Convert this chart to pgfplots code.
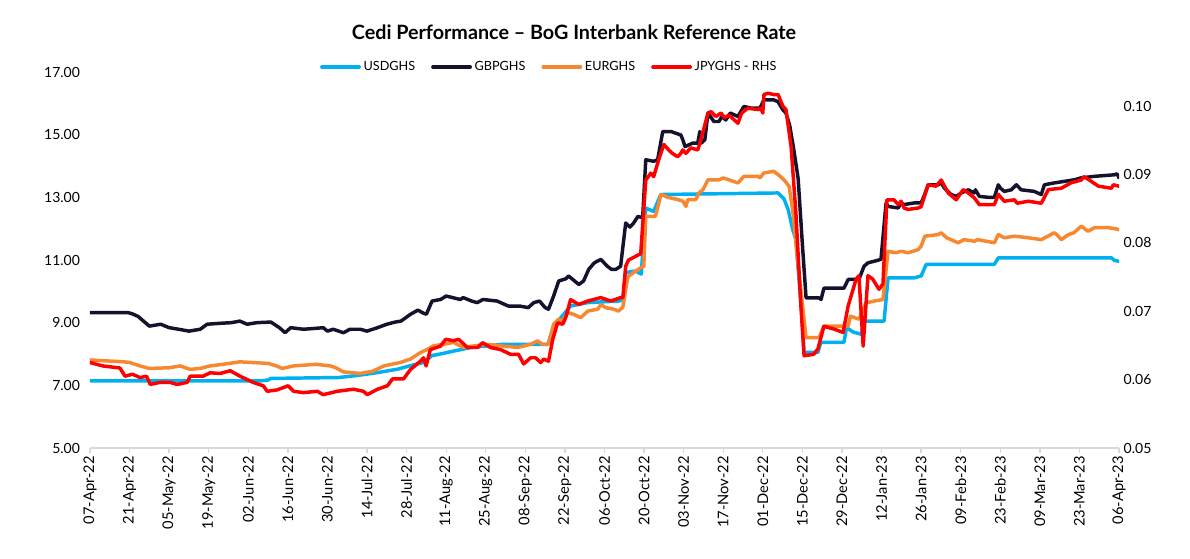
\documentclass[border=0pt]{standalone}
\usepackage{pgfplots}
\pgfplotsset{compat=1.18}
\usepackage{fontspec}
\setmainfont{Lato}
\definecolor{usd}{HTML}{00B0F0}
\definecolor{gbp}{HTML}{13132E}
\definecolor{eur}{HTML}{F7882F}
\definecolor{jpy}{HTML}{FF0000}
\definecolor{axgray}{HTML}{D9D9D9}
\pgfplotsset{
  serie/.style={no marks, line width=2.6pt, line join=round, line cap=round},
}
\begin{document}
\begin{tikzpicture}
\useasboundingbox (-67.5pt,-82.5pt) rectangle (825pt,336pt);
\begin{axis}[
  at={(0pt,0pt)}, anchor=south west,
  scale only axis, width=771.75pt, height=282pt,
  xmin=0, xmax=364, ymin=5, ymax=17,
  axis x line*=bottom, axis y line*=left,
  x axis line style={axgray, line width=1pt, -},
  y axis line style={draw=none},
  xtick={0,14,...,364},
  xticklabels={07-Apr-22,21-Apr-22,05-May-22,19-May-22,02-Jun-22,16-Jun-22,30-Jun-22,14-Jul-22,28-Jul-22,11-Aug-22,25-Aug-22,08-Sep-22,22-Sep-22,06-Oct-22,20-Oct-22,03-Nov-22,17-Nov-22,01-Dec-22,15-Dec-22,29-Dec-22,12-Jan-23,26-Jan-23,09-Feb-23,23-Feb-23,09-Mar-23,23-Mar-23,06-Apr-23},
  xtick style={axgray, line width=1pt},
  tick align=outside, major tick length=4pt,
  xtick pos=bottom,
  ytick={5,7,9,11,13,15,17},
  ytick style={draw=none},
  xticklabel style={rotate=90, anchor=east, font=\fontsize{11}{12}\selectfont, inner sep=2pt},
  yticklabel style={font=\fontsize{10.5}{12}\selectfont},
  /pgf/number format/.cd, fixed, fixed zerofill, precision=2, assume math mode=true,
  /pgfplots/.cd,
  legend columns=4,
  legend style={draw=none, fill=none, at={(0.4466,1.0133)}, anchor=center,
    font=\fontsize{9.5}{11}\selectfont,
    /tikz/every even column/.append style={column sep=10pt}},
  legend image code/.code={\draw[#1] (0pt,0pt) -- (28pt,0pt);},
]
\addplot[serie, usd] table {
0 7.14
60 7.14
63 7.17
64 7.22
88 7.25
95 7.32
102 7.41
109 7.52
113 7.62
118 7.73
121 7.95
125 8.02
129 8.10
135 8.21
146 8.31
162 8.31
164 8.90
166 9.10
170 9.53
176 9.64
187 9.69
188.5 9.72
189.5 10.60
193 10.65
195 10.55
196.6 12.66
199.4 12.55
201.9 13.09
243.4 13.14
244.4 13.05
245.5 12.95
247 12.60
248.5 12.00
249.7 11.65
250.8 10.38
252 9.00
252.6 8.05
257.5 8.05
258.5 8.37
266.7 8.37
267.6 8.84
270 8.70
272.8 8.63
274 9.05
280.9 9.05
282.3 10.43
291.5 10.43
294 10.49
295.8 10.86
319.9 10.86
321.3 11.07
361.3 11.07
362.5 10.98
364 10.96
};
\addlegendentry{USDGHS}
\addplot[serie, gbp] table {
0 9.32
13.5 9.32
15 9.28
17 9.20
21 8.89
25 8.95
28 8.84
32 8.78
35 8.73
39 8.79
41.4 8.95
46 8.98
50 9.00
53 9.05
55.6 8.95
59 9.00
64 9.02
67 8.84
69 8.68
71 8.84
75.5 8.79
80 8.82
82.5 8.84
84 8.73
86 8.79
89.6 8.68
92 8.79
95.6 8.79
98 8.73
101.7 8.84
105 8.95
108 9.02
110 9.05
113.4 9.27
116 9.40
118 9.30
119 9.27
121 9.69
124 9.74
126 9.85
131 9.74
132 9.80
135 9.69
137 9.64
139 9.74
144 9.69
148 9.53
152 9.53
155 9.48
157 9.64
159 9.69
161 9.48
162.2 9.43
164 9.85
165.8 10.33
168.3 10.40
169.3 10.49
172.9 10.22
174.6 10.33
176.4 10.70
178.4 10.91
180.7 11.02
183 10.80
184.5 10.70
186 10.70
187.7 10.80
189.5 12.18
191 12.05
192.3 12.18
193.8 12.39
195.5 12.35
196.6 14.20
199.4 14.15
200.8 14.20
202.6 15.10
205.5 15.10
209 14.99
209.7 14.84
210.5 14.62
213.2 14.73
215 14.73
215.7 15.10
216.2 14.73
217.5 14.84
218.6 15.69
220.7 15.42
222.5 15.42
223.5 15.58
224.9 15.47
226.5 15.69
229.2 15.58
231.3 15.90
233.8 15.85
237 15.85
238.4 16.11
241.9 16.11
243.4 16.05
245.1 15.79
246.2 15.69
247.5 15.30
249 14.50
250.5 13.60
252 11.50
253.3 9.79
257.9 9.79
258.6 9.74
259.6 10.10
266.7 10.10
268.2 10.38
272 10.38
273.8 10.80
275.2 10.91
277.4 10.96
279.8 11.02
281.6 12.82
282.3 12.71
285.9 12.66
286.9 12.82
288 12.77
291.5 12.82
294 12.82
295 13.03
296.5 13.40
300 13.40
301.1 13.46
302.2 13.30
304.6 13.09
306.4 13.03
308.2 13.14
310.7 13.24
312.8 13.14
313.2 13.24
314.6 13.03
317.8 13.00
319.9 13.00
321.3 13.40
322 13.30
323.4 13.19
325.9 13.24
327.7 13.40
329.4 13.24
334 13.19
336.5 13.09
337.6 13.40
341.1 13.46
344.7 13.51
348.2 13.56
350.5 13.62
355.3 13.67
362.4 13.72
363.3 13.75
364 13.62
};
\addlegendentry{GBPGHS}
\addplot[serie, eur] table {
0 7.81
12 7.75
14 7.73
17.7 7.62
21 7.54
28 7.56
31.9 7.62
35.4 7.51
39 7.54
42.5 7.62
47 7.67
53 7.75
63 7.70
66 7.62
68 7.54
72 7.62
80 7.67
85 7.62
87 7.56
89.6 7.43
95.6 7.38
100 7.45
104 7.62
109.8 7.73
113.4 7.84
117 8.05
119.4 8.15
121.5 8.26
125 8.31
128.6 8.37
132 8.21
136 8.26
140.6 8.31
145.2 8.26
151.3 8.21
155.9 8.31
158.3 8.42
160 8.31
162.2 8.31
164 8.95
165.8 9.11
167 9.05
169 9.32
171 9.27
173.6 9.16
176.1 9.37
179.6 9.43
180.7 9.58
182.4 9.48
185.3 9.43
187 9.37
188.5 9.50
190.2 10.43
190.6 10.49
193.1 10.65
194.8 10.75
195.9 10.80
196.6 12.39
200 12.39
202 13.09
204.4 13.00
207.9 12.93
209.7 12.88
210.8 12.71
211.5 12.93
214.3 12.93
215.4 13.14
216.8 13.24
218.6 13.56
222.5 13.56
224 13.62
226 13.56
229.2 13.46
231.3 13.67
236.3 13.67
237 13.62
238.4 13.78
241.9 13.83
243.5 13.72
245.5 13.56
247.3 13.35
248.7 12.50
250.4 10.91
252 9.60
253.3 8.52
257.9 8.52
259.6 8.89
268.2 8.89
269 9.21
272 9.11
274.5 9.63
277.4 9.69
280.5 9.74
282.3 11.28
285 11.23
286.9 11.28
289.4 11.23
292.9 11.33
294 11.44
295.3 11.76
300 11.81
301.1 11.87
303 11.71
307.1 11.55
309.2 11.65
312.8 11.60
314 11.65
319.9 11.55
321.3 11.81
323.4 11.71
327 11.76
331.9 11.71
336.5 11.65
341.1 11.87
342 11.81
343.6 11.65
346.1 11.81
348 11.87
350.7 12.08
353 11.92
355.3 12.03
360.3 12.03
362.5 12.00
364 11.97
};
\addlegendentry{EURGHS}
\addlegendimage{serie, jpy}
\addlegendentry{JPYGHS - RHS}
\end{axis}
\begin{axis}[
  at={(0pt,0pt)}, anchor=south west,
  scale only axis, width=771.75pt, height=282pt,
  xmin=0, xmax=364, ymin=0.05, ymax=0.105,
  axis y line*=right, axis x line=none,
  y axis line style={draw=none}, ytick style={draw=none},
  ytick={0.05,0.06,0.07,0.08,0.09,0.10},
  scaled y ticks=false,
  yticklabel style={font=\fontsize{10.5}{12}\selectfont},
  /pgf/number format/.cd, fixed, fixed zerofill, precision=2, assume math mode=true,
  /pgfplots/.cd,
]
\addplot[serie, jpy] table {
0 0.0625
4.6 0.0620
10.6 0.0617
12.4 0.0605
15 0.0608
17.7 0.0603
20 0.0605
21.3 0.0593
24.8 0.0596
28.3 0.0596
30.8 0.0593
34.4 0.0596
35.4 0.0605
40 0.0605
42.5 0.0610
46 0.0609
49.6 0.0613
53.1 0.0605
57.7 0.0596
61.3 0.0591
62.7 0.0583
66.2 0.0585
70.1 0.0591
72 0.0583
75.5 0.0581
80.4 0.0583
82.5 0.0578
87.5 0.0583
93.2 0.0586
96.7 0.0583
98.1 0.0578
101.7 0.0586
105.2 0.0591
107 0.0601
110.9 0.0601
113.4 0.0615
116.9 0.0627
118 0.0632
118.9 0.0620
120.4 0.0644
124 0.0649
125.8 0.0659
128.6 0.0657
130.4 0.0659
133.5 0.0647
137.1 0.0647
138.9 0.0654
141.7 0.0647
145.2 0.0644
148.8 0.0637
151.6 0.0637
153.4 0.0623
155.9 0.0632
157.6 0.0632
159.4 0.0625
160.5 0.0630
162.2 0.0627
163.7 0.0659
165.4 0.0683
167.2 0.0681
168.3 0.0691
170 0.0717
172.9 0.0710
176.1 0.0715
180.7 0.0720
184.2 0.0715
187.7 0.0720
188.5 0.0720
189.5 0.0766
190.5 0.0775
193.8 0.0782
194.8 0.0784
196.6 0.0892
198.4 0.0902
199.4 0.0897
201.2 0.0922
203 0.0944
204.7 0.0936
206 0.0931
207.9 0.0926
209 0.0931
209.7 0.0936
210.8 0.0931
212.5 0.0939
215 0.0936
216.1 0.0951
218.6 0.0990
219.7 0.0992
221.4 0.0985
223.2 0.0990
224.5 0.0983
226 0.0987
229.2 0.0975
230.5 0.0990
232.7 0.0997
236.3 0.0995
237.3 0.0997
238 0.0990
238.4 0.1017
239.8 0.1019
241.9 0.1017
243.4 0.1017
245.1 0.1000
246.2 0.0995
248 0.0941
249.7 0.0844
251.5 0.0706
252.6 0.0635
256 0.0637
257.5 0.0645
259.6 0.0678
263.2 0.0674
266.4 0.0669
268.2 0.0708
271 0.0747
272 0.0752
273.5 0.0649
275.2 0.0752
276.9 0.0747
279.1 0.0732
280.5 0.0740
281.9 0.0863
284.4 0.0863
285.9 0.0856
286.9 0.0861
288 0.0851
289.4 0.0849
292.9 0.0851
294 0.0853
296.5 0.0885
299.3 0.0883
301.1 0.0892
303.6 0.0873
306.4 0.0863
308.9 0.0878
310.7 0.0873
312.8 0.0866
314.6 0.0856
319.9 0.0856
321.3 0.0871
323.4 0.0861
327 0.0863
328 0.0858
331.9 0.0861
336.5 0.0858
339 0.0878
343.6 0.0880
347.1 0.0888
350.7 0.0892
351.5 0.0897
353.5 0.0892
356.7 0.0883
361.3 0.0880
362 0.0885
364 0.0883
};
\end{axis}
\node[font=\bfseries\fontsize{14.8}{17}\selectfont] at (363pt,312pt) {Cedi Performance – BoG Interbank Reference Rate};
\end{tikzpicture}
\end{document}
